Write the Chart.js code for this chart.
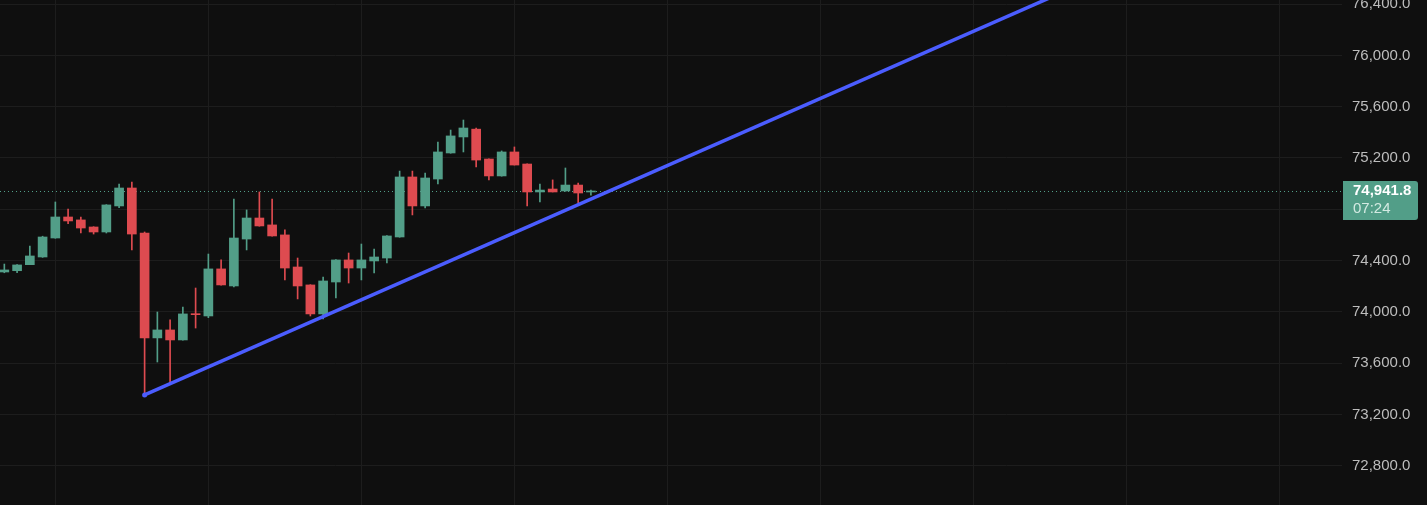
<!DOCTYPE html>
<html>
<head>
<meta charset="utf-8">
<script src="https://cdn.jsdelivr.net/npm/chart.js@4.4.1/dist/chart.umd.min.js"></script>
<style>
    html, body { margin: 0; padding: 0; background: #0f0f0f; }
    #wrap { width: 1427px; height: 505px; position: relative; }
</style>
</head>
<body>
<div id="wrap"><canvas id="chartBTC"></canvas></div>
<script>
// ---- candle data (index = bar position) ----
const openP  = [74311, 74321, 74368, 74428, 74576, 74740, 74717, 74662, 74623, 74826,
                74966, 74615, 73797, 73859, 73781, 73984, 73968, 74335, 74202, 74568,
                74732, 74678, 74600, 74350, 74210, 73984, 74233, 74405, 74342, 74397,
                74420, 74584, 75052, 74826, 75036, 75239, 75364, 75425, 75192, 75060,
                75247, 75153, 74935, 74958, 74943, 74989, 74935];
const highP  = [74373, 74368, 74514, 74590, 74857, 74802, 74740, 74664, 74836, 74997,
                75013, 74623, 73999, 73937, 74038, 74186, 74451, 74405, 74880, 74795,
                74935, 74880, 74639, 74420, 74212, 74272, 74407, 74459, 74529, 74490,
                74594, 75098, 75098, 75083, 75325, 75418, 75496, 75434, 75194, 75255,
                75286, 75155, 74997, 75029, 75122, 75005, 74950];
const lowP   = [74305, 74306, 74368, 74425, 74574, 74688, 74615, 74607, 74615, 74812,
                74483, 73345, 73609, 73448, 73779, 73874, 73955, 74208, 74194, 74483,
                74668, 74590, 74249, 74101, 73968, 73945, 74108, 74225, 74249, 74303,
                74381, 74582, 74756, 74810, 74997, 75237, 75247, 75130, 75029, 75058,
                75145, 74826, 74857, 74935, 74941, 74849, 74911];
const closeP = [74327, 74366, 74436, 74584, 74740, 74709, 74654, 74623, 74834, 74966,
                74607, 73797, 73859, 73781, 73984, 73978, 74335, 74210, 74576, 74732,
                74670, 74592, 74342, 74202, 73984, 74241, 74405, 74342, 74405, 74428,
                74592, 75052, 74826, 75044, 75247, 75372, 75434, 75184, 75060, 75247,
                75145, 74935, 74950, 74935, 74989, 74927, 74941.8];

// trend line anchors: [bar index, price]
const trendX = [11, 95];
const trendY = [73352, 77017];

const lastTime = '07:24';
const yMin = 72494, yMax = 76432, yStep = 400;

const upColor = '#529e88';
const downColor = '#de4b50';
const gridColor = '#1d1d1d';
const tickColor = '#bdbdbd';
const trendColor = '#4b5dff';
const axisFont = "'Liberation Sans', Arial, sans-serif";

const colors = closeP.map((c, i) => c >= openP[i] ? upColor : downColor);
const wickData = highP.map((h, i) => ({ x: i, y: [lowP[i], h] }));
const bodyData = openP.map((o, i) => ({ x: i, y: [o, closeP[i]] }));
const trendData = trendX.map((x, i) => ({ x, y: trendY[i] }));

const lastPrice = closeP[closeP.length - 1];
const fmt = v => v.toLocaleString('en-US', { minimumFractionDigits: 1, maximumFractionDigits: 1 });

// no auto padding from tick labels: plot fills the whole height
const noPad = scale => {
    scale.paddingTop = 0; scale.paddingBottom = 0;
    scale.paddingLeft = 0; scale.paddingRight = 0;
};

// dotted last-price line + price badge on the axis
const lastPricePlugin = {
    id: 'lastPrice',
    beforeDatasetsDraw(chart) {
        const { ctx, chartArea } = chart;
        const y = Math.round(chart.scales.y.getPixelForValue(lastPrice)) + 0.5;
        ctx.save();
        ctx.strokeStyle = upColor;
        ctx.lineWidth = 1;
        ctx.setLineDash([1, 3]);
        ctx.beginPath();
        ctx.moveTo(chartArea.left, y);
        ctx.lineTo(chartArea.right, y);
        ctx.stroke();
        ctx.restore();
    },
    afterDraw(chart) {
        const { ctx, chartArea } = chart;
        const y = chart.scales.y.getPixelForValue(lastPrice);
        const x0 = chartArea.right + 1, w = 75, top = y - 10, h = 39;
        ctx.save();
        ctx.fillStyle = upColor;
        ctx.beginPath();
        ctx.roundRect(x0, top, w, h, [0, 3, 3, 0]);
        ctx.fill();
        ctx.fillStyle = '#ffffff';
        ctx.font = "bold 15px " + axisFont;
        ctx.textBaseline = 'middle';
        ctx.fillText(fmt(lastPrice), x0 + 10, top + 10);
        ctx.fillStyle = '#d3eae2';
        ctx.font = "15px " + axisFont;
        ctx.fillText(lastTime, x0 + 10, top + 28);
        ctx.restore();
    }
};

new Chart(document.getElementById('chartBTC'), {
    type: 'bar',
    data: {
        datasets: [
            {
                type: 'line',
                data: trendData,
                borderColor: trendColor,
                borderWidth: 3.5,
                pointRadius: [2.5, 0],
                pointBackgroundColor: trendColor,
                pointBorderWidth: 0,
                order: 0
            },
            {
                data: bodyData,
                backgroundColor: colors,
                barThickness: 9,
                minBarLength: 1,
                grouped: false,
                order: 1
            },
            {
                data: wickData,
                backgroundColor: colors,
                barThickness: 1,
                grouped: false,
                order: 2
            }
        ]
    },
    plugins: [lastPricePlugin],
    options: {
        responsive: true,
        maintainAspectRatio: false,
        animation: false,
        layout: { padding: 0, autoPadding: false },
        plugins: {
            legend: { display: false },
            tooltip: { enabled: false }
        },
        scales: {
            x: {
                type: 'linear',
                min: -0.34,
                max: 104.9,
                offset: false,
                border: { display: false },
                grid: { color: gridColor, drawTicks: false, offset: false },
                ticks: { display: false },
                afterBuildTicks: scale => {
                    const t = [];
                    for (let v = 4; v <= 104; v += 12) t.push({ value: v });
                    scale.ticks = t;
                },
                afterFit: scale => { scale.height = 0; noPad(scale); }
            },
            y: {
                position: 'right',
                min: yMin,
                max: yMax,
                border: { display: false },
                grid: { color: gridColor, drawTicks: false },
                ticks: {
                    stepSize: yStep,
                    padding: 10,
                    color: tickColor,
                    font: { family: axisFont, size: 15 },
                    callback: v => fmt(v)
                },
                afterBuildTicks: scale => {
                    const t = [];
                    for (let v = Math.ceil(yMin / yStep) * yStep; v <= yMax; v += yStep) t.push({ value: v });
                    scale.ticks = t;
                },
                afterFit: scale => { scale.width = 85; noPad(scale); }
            }
        }
    }
});
</script>
</body>
</html>
